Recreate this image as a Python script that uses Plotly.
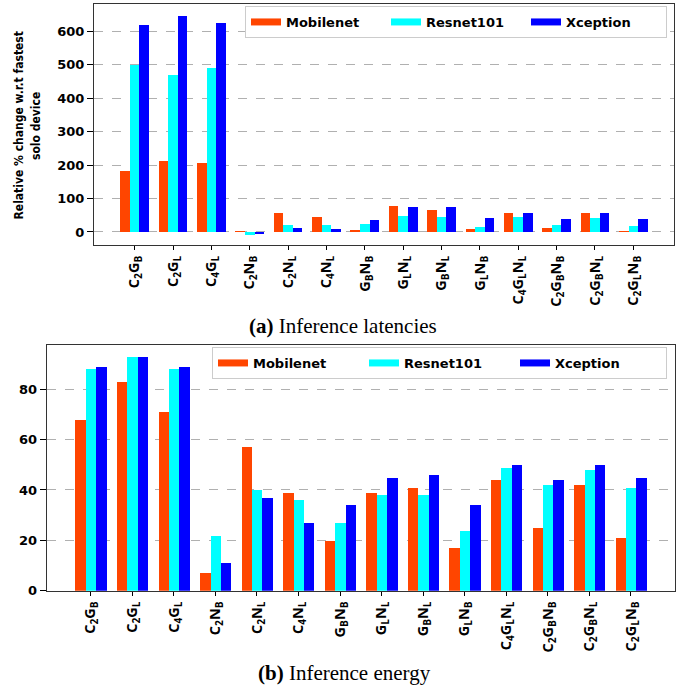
import plotly.graph_objects as go

categories = ["C2GB", "C2GL", "C4GL", "C2NB", "C2NL", "C4NL", "GBNB", "GLNL",
              "GBNL", "GLNB", "C4GLNL", "C2GBNB", "C2GBNL", "C2GLNB"]
tick_labels = ["C<sub>2</sub>G<sub>B</sub>", "C<sub>2</sub>G<sub>L</sub>", "C<sub>4</sub>G<sub>L</sub>",
               "C<sub>2</sub>N<sub>B</sub>", "C<sub>2</sub>N<sub>L</sub>", "C<sub>4</sub>N<sub>L</sub>",
               "G<sub>B</sub>N<sub>B</sub>", "G<sub>L</sub>N<sub>L</sub>", "G<sub>B</sub>N<sub>L</sub>",
               "G<sub>L</sub>N<sub>B</sub>", "C<sub>4</sub>G<sub>L</sub>N<sub>L</sub>",
               "C<sub>2</sub>G<sub>B</sub>N<sub>B</sub>", "C<sub>2</sub>G<sub>B</sub>N<sub>L</sub>",
               "C<sub>2</sub>G<sub>L</sub>N<sub>B</sub>"]
series_names = ["Mobilenet", "Resnet101", "Xception"]

latency_mobilenet = [181, 211, 205, 2, 56, 44, 7, 79, 67, 10, 58, 13, 58, 1]
latency_resnet101 = [498, 468, 489, -10, 20, 20, 25, 49, 46, 16, 46, 22, 43, 19]
latency_xception = [618, 645, 624, -6, 11, 8, 37, 76, 76, 43, 58, 40, 58, 40]

energy_mobilenet = [68, 83, 71, 7, 57, 39, 20, 39, 41, 17, 44, 25, 42, 21]
energy_resnet101 = [88, 93, 88, 22, 40, 36, 27, 38, 38, 24, 49, 42, 48, 41]
energy_xception = [89, 93, 89, 11, 37, 27, 34, 45, 46, 34, 50, 44, 50, 45]

latency_ticks = [0, 100, 200, 300, 400, 500, 600]
energy_ticks = [0, 20, 40, 60, 80]

colors = ["#FF4500", "#00FFFF", "#0000FF"]
offsets = [-0.375, -0.125, 0.125]
W, H = 684, 687

fig = go.Figure()

lat = [latency_mobilenet, latency_resnet101, latency_xception]
eng = [energy_mobilenet, energy_resnet101, energy_xception]

for i in range(3):
    fig.add_trace(go.Bar(x=categories, y=lat[i], width=0.25, offset=offsets[i],
                         marker=dict(color=colors[i], line=dict(width=0)),
                         showlegend=False, xaxis="x", yaxis="y", name=series_names[i]))
    fig.add_trace(go.Bar(x=categories, y=eng[i], width=0.25, offset=offsets[i],
                         marker=dict(color=colors[i], line=dict(width=0)),
                         showlegend=False, xaxis="x2", yaxis="y2", name=series_names[i]))

# legend entries (wide swatches)
for i in range(3):
    fig.add_trace(go.Scatter(x=[None], y=[None], mode="lines", name=series_names[i],
                             line=dict(color=colors[i], width=7), xaxis="x", yaxis="y",
                             legend="legend"))
    fig.add_trace(go.Scatter(x=[None], y=[None], mode="lines", name=series_names[i],
                             line=dict(color=colors[i], width=7), xaxis="x2", yaxis="y2",
                             legend="legend2"))

xtickfont = dict(family="Open Sans", size=14.5, color="black", weight="bold")
ytickfont = dict(family="DejaVu Sans", size=13, color="black", weight="bold")
legfont = dict(family="DejaVu Sans", size=13, color="black", weight="bold")
titlefont = dict(family="DejaVu Sans Condensed, Liberation Sans Narrow, DejaVu Sans",
                 size=12, color="black", weight="bold")
spine = "#333333"

common_x = dict(type="category", range=[-1.06, 14.06], tickmode="array",
                tickvals=categories, ticktext=tick_labels, tickangle=-90,
                ticks="outside", ticklen=4, tickcolor="black", tickfont=xtickfont,
                showline=True, linecolor=spine, linewidth=1, mirror=True,
                showgrid=False, zeroline=False, automargin=False, fixedrange=True)
common_y = dict(ticks="outside", ticklen=6, tickcolor="black", tickfont=ytickfont,
                showline=True, linecolor=spine, linewidth=1, mirror=True,
                showgrid=True, gridcolor="#b0b0b0", griddash="dash", gridwidth=1,
                zeroline=False, automargin=False, fixedrange=True)

fig.update_layout(
    width=W, height=H, template="none",
    paper_bgcolor="white", plot_bgcolor="white",
    margin=dict(l=0, r=0, t=0, b=0),
    barmode="overlay", bargap=0,
    xaxis=dict(domain=[94 / W, 674 / W], anchor="y", **common_x),
    yaxis=dict(domain=[1 - 245 / H, 1 - 4 / H], anchor="x", range=[-39, 681],
               tickvals=latency_ticks, **common_y),
    xaxis2=dict(domain=[46.7 / W, 675 / W], anchor="y2", **common_x),
    yaxis2=dict(domain=[1 - 590.7 / H, 1 - 344.7 / H], anchor="x2", range=[0, 97.7],
                tickvals=energy_ticks, **common_y),
    legend=dict(orientation="h", x=667 / W, xanchor="right", y=1 - 6 / H, yanchor="top",
                bgcolor="white", bordercolor="#cccccc", borderwidth=1, font=legfont,
                entrywidthmode="pixels", entrywidth=95, itemwidth=30),
    legend2=dict(orientation="h", x=667 / W, xanchor="right", y=1 - 347 / H, yanchor="top",
                 bgcolor="white", bordercolor="#cccccc", borderwidth=1, font=legfont,
                 entrywidthmode="pixels", entrywidth=106, itemwidth=30),
    annotations=[
        dict(text="Relative % change w.r.t fastest", textangle=-90,
             xref="paper", yref="paper", x=18.5 / W, y=1 - 126 / H, xanchor="center",
             yanchor="middle", showarrow=False, font=titlefont),
        dict(text="solo device", textangle=-90,
             xref="paper", yref="paper", x=36 / W, y=1 - 126 / H, xanchor="center",
             yanchor="middle", showarrow=False, font=titlefont),
        dict(text="<b>(a)</b> Inference latencies", xref="paper", yref="paper",
             x=343 / W, y=1 - 326 / H, xanchor="center", yanchor="middle", showarrow=False,
             font=dict(family="Liberation Serif", size=21, color="black")),
        dict(text="<b>(b)</b> Inference energy", xref="paper", yref="paper",
             x=344 / W, y=1 - 673 / H, xanchor="center", yanchor="middle", showarrow=False,
             font=dict(family="Liberation Serif", size=21, color="black")),
    ],
)

fig.write_html("out.html", config={"displayModeBar": False},
               post_script="document.body.style.margin='0';document.body.style.overflow='hidden';")
